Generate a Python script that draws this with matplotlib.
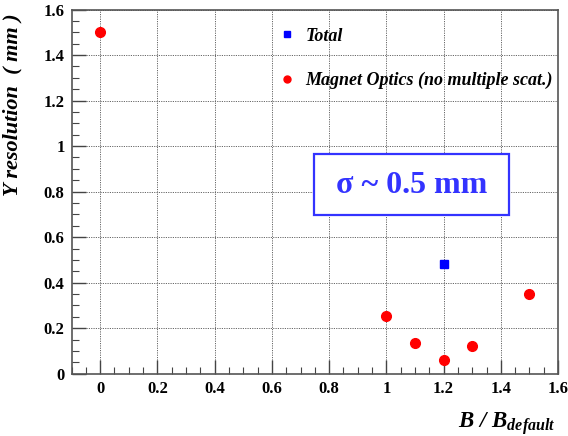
import matplotlib
matplotlib.use("Agg")
import matplotlib.pyplot as plt
from matplotlib.ticker import MultipleLocator
from matplotlib.patches import Rectangle
from matplotlib.lines import Line2D

plt.rcParams['font.family'] = ['Liberation Serif', 'DejaVu Serif']
plt.rcParams['mathtext.fontset'] = 'custom'
plt.rcParams['mathtext.rm'] = 'Liberation Serif:bold:italic'
plt.rcParams['mathtext.it'] = 'Liberation Serif:bold:italic'
plt.rcParams['mathtext.bf'] = 'Liberation Serif:bold:italic'

# data
total_x = [1.2]
total_y = [0.48]
optics_x = [0.0, 1.0, 1.1, 1.2, 1.3, 1.5]
optics_y = [1.50, 0.254, 0.134, 0.06, 0.122, 0.352]

fig = plt.figure(figsize=(5.68, 4.36), dpi=100)
ax = fig.add_axes([0.126, 0.143, 0.8565, 0.835])

ax.plot(total_x, total_y, 's', color='#0000ff', ms=6, zorder=5)
ax.plot(optics_x, optics_y, 'o', color='#ff0000', ms=7, zorder=5)

ax.set_xlim(-0.1, 1.6)
ax.set_ylim(0, 1.6)
ax.xaxis.set_major_locator(MultipleLocator(0.2))
ax.xaxis.set_minor_locator(MultipleLocator(0.05))
ax.yaxis.set_major_locator(MultipleLocator(0.2))
ax.yaxis.set_minor_locator(MultipleLocator(0.05))
ax.xaxis.set_major_formatter(plt.FuncFormatter(lambda v, p: ('%g' % round(v, 2))))
ax.yaxis.set_major_formatter(plt.FuncFormatter(lambda v, p: ('%g' % round(v, 2))))

ax.grid(True, which='major', color='#666666', ls=(0, (1.2, 1.2)), lw=0.7)
ax.tick_params(which='both', direction='in', top=False, right=False, color='#444444')
ax.tick_params(which='major', length=10, width=1, labelsize=12, pad=5)
ax.tick_params(which='minor', length=5, width=0.8)
for lab in ax.get_xticklabels() + ax.get_yticklabels():
    lab.set_fontweight('bold')
for s in ax.spines.values():
    s.set_color('#555555')
    s.set_linewidth(1.2)

ax.set_ylabel('Y resolution  ( mm )', fontsize=16, fontweight='bold', fontstyle='italic')
ax.yaxis.set_label_coords(-0.1, 0.99)
ax.yaxis.label.set_ha('right')
ax.set_xlabel(r'$B\ /\ B_{default}$', fontsize=16.5)
ax.xaxis.set_label_coords(0.995, -0.1)
ax.xaxis.label.set_ha('right')

handles = [Line2D([], [], ls='none', marker='s', color='#0000ff', ms=5),
           Line2D([], [], ls='none', marker='o', color='#ff0000', ms=5)]
ax.legend(handles, ['Total', 'Magnet Optics (no multiple scat.)'],
          loc='upper left', bbox_to_anchor=(0.39, 0.995), frameon=False,
          handlelength=1.0, handletextpad=0.55, labelspacing=1.5,
          prop={'family': 'Liberation Serif', 'weight': 'bold', 'style': 'italic', 'size': 13})

ax.add_patch(Rectangle((0.499, 0.436), 0.401, 0.166, transform=ax.transAxes,
                       fill=True, facecolor='white', edgecolor='#3333ff', lw=1.6, zorder=6))
ax.text(0.70, 0.517, 'σ ~ 0.5 mm', transform=ax.transAxes, ha='center', va='center',
        fontsize=23, fontweight='bold', color='#3333ff', zorder=7)

fig.savefig('out.png', dpi=100)
